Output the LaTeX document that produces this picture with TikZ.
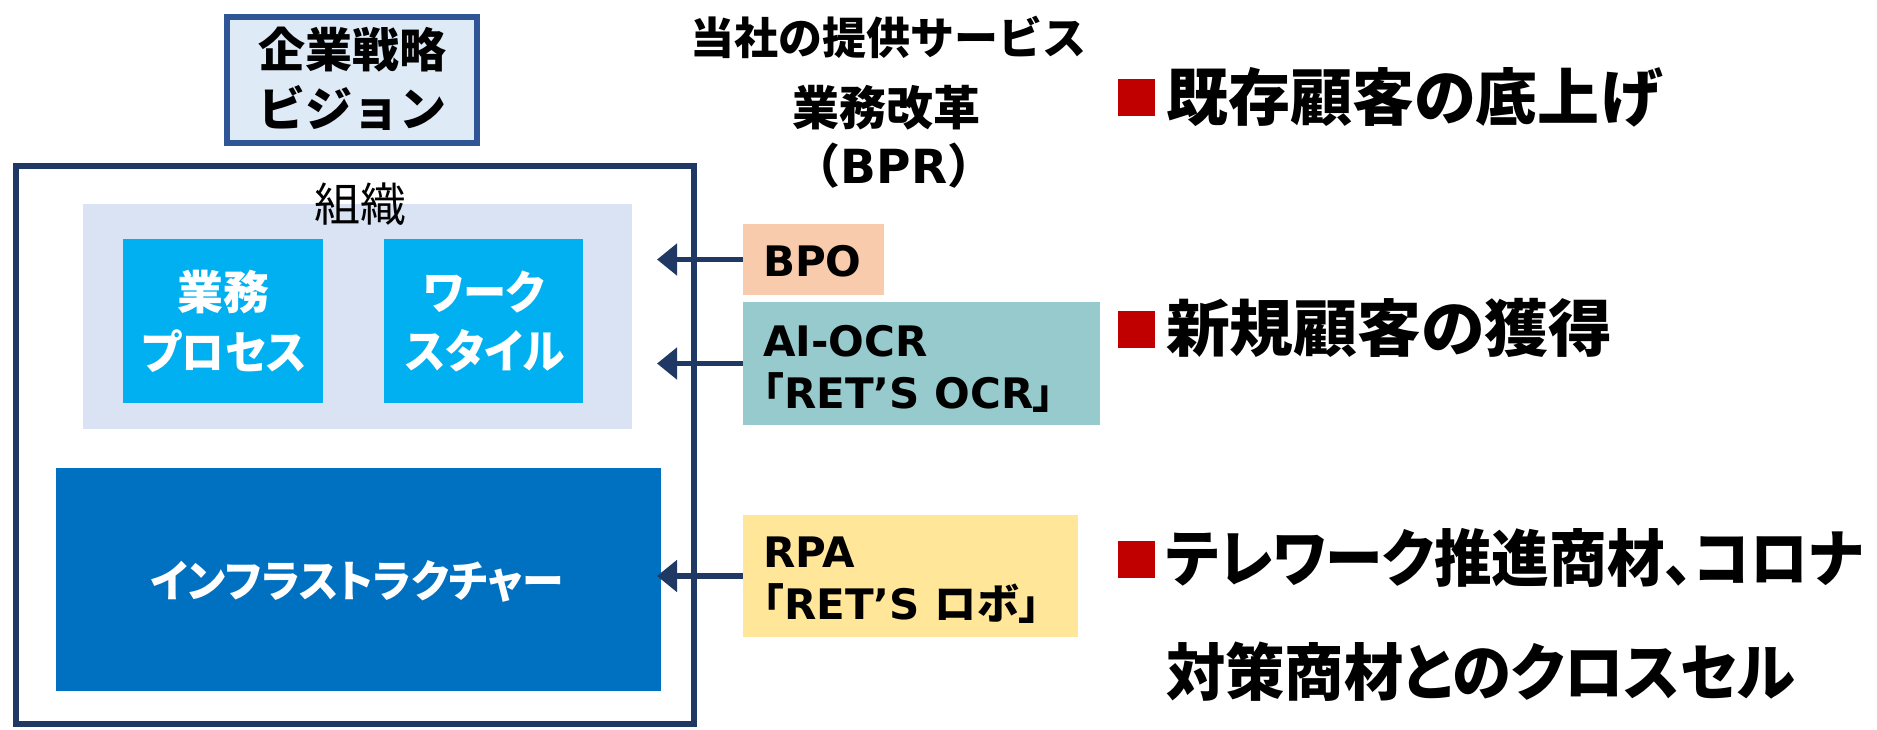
\documentclass[tikz,border=0pt]{standalone}
\usepackage{fontspec}
\usepackage{graphicx}
\setmainfont{DejaVu Sans}
\newfontfamily\jp{Noto Sans CJK JP}
\newfontfamily\jpp{Noto Sans CJK JP}[RawFeature=+palt]
\newfontfamily\lat{DejaVu Sans}
\usetikzlibrary{arrows.meta}
\definecolor{visfill}{HTML}{DEEBF7}
\definecolor{visdraw}{HTML}{2F5597}
\definecolor{navy}{HTML}{203864}
\definecolor{lightbg}{HTML}{DAE3F3}
\definecolor{cyanbox}{HTML}{00B0F0}
\definecolor{infrab}{HTML}{0070C0}
\definecolor{bpoc}{HTML}{F8CBAD}
\definecolor{ocrc}{HTML}{96CACD}
\definecolor{rpac}{HTML}{FFE699}
\definecolor{redsq}{HTML}{C00000}
\newcommand\fsz[1]{\fontsize{#1}{#1}\selectfont}
\newcommand\sqz[2]{\scalebox{#1}[1]{#2}}
\tikzset{
  plainbox/.style={draw=none, inner sep=0pt, outer sep=0pt},
  txt/.style={inner sep=0pt, outer sep=0pt, anchor=center},
  ltxt/.style={inner sep=0pt, outer sep=0pt, anchor=west},
  arr/.style={draw=navy, line width=5.5pt, -{Triangle[length=20pt,width=31pt]}},
  bullet/.style={fill=redsq, draw=none, minimum width=37pt, minimum height=37pt, inner sep=0pt},
}
\begin{document}
\begin{tikzpicture}[x=1pt,y=-1pt]
\useasboundingbox (0,0) rectangle (1877,729);
% vision
\node[draw=visdraw, fill=visfill, line width=6pt, minimum width=250pt, minimum height=126pt, inner sep=0pt] (vis) at (352,80) {};
\node[txt] (vis1) at (352,50) {\jp\bfseries\fsz{47}企業戦略};
\node[txt] (vis2) at (352,108) {\jp\bfseries\fsz{47}ビジョン};
% outer org box
\node[draw=navy, line width=6pt, minimum width=678pt, minimum height=558pt, inner sep=0pt] (outer) at (355,445) {};
\node[plainbox, fill=lightbg, minimum width=549pt, minimum height=225pt] (light) at (357.5,316.5) {};
\node[txt] (soshiki) at (360,204) {\jp\fsz{46}組織};
\node[plainbox, fill=cyanbox, minimum width=200pt, minimum height=164pt] (b1) at (223,321) {};
\node[plainbox, fill=cyanbox, minimum width=199pt, minimum height=164pt] (b2) at (483.5,321) {};
\node[txt, text=white] (b1a) at (223,292) {\jpp\bfseries\fsz{46}業務};
\node[txt, text=white] (b1b) at (224,351) {\jpp\bfseries\fsz{46}\sqz{0.93}{プロセス}};
\node[txt, text=white] (b2a) at (484,292) {\jpp\bfseries\fsz{46}\sqz{0.94}{ワーク}};
\node[txt, text=white] (b2b) at (485,351) {\jpp\bfseries\fsz{46}\sqz{0.93}{スタイル}};
\node[plainbox, fill=infrab, minimum width=605pt, minimum height=223pt] (infra) at (358.5,579.5) {};
\node[txt, text=white] (infrat) at (357,581) {\jpp\bfseries\fsz{44}\sqz{0.95}{インフラストラクチャー}};
% header
\node[txt] (h1) at (888,37) {\jp\bfseries\fsz{44}当社の提供サービス};
\node[txt] (h2) at (886,108) {\jp\bfseries\fsz{47}業務改革};
\node[txt] (h3) at (894,166) {\jp\bfseries\fsz{47}（{\lat\bfseries BPR}）};
% service boxes
\node[plainbox, fill=bpoc, minimum width=141pt, minimum height=71pt] (bpo) at (813.5,259.5) {};
\node[plainbox, fill=ocrc, minimum width=357pt, minimum height=123pt] (ocr) at (921.5,363.5) {};
\node[plainbox, fill=rpac, minimum width=335pt, minimum height=122pt] (rpa) at (910.5,576) {};
\node[ltxt] (bpot) at (763,261) {\lat\bfseries\fsz{42}BPO};
\node[ltxt] (ocr1) at (763,341) {\lat\bfseries\fsz{42}AI-OCR};
\node[ltxt] (ocr2) at (763,393) {\lat\bfseries\fsz{42}{\jpp 「}RET’S OCR{\jpp 」}};
\node[ltxt] (rpa1) at (763,552) {\lat\bfseries\fsz{42}RPA};
\node[ltxt] (rpa2) at (763,604) {\lat\bfseries\fsz{42}{\jpp 「}RET’S {\jpp ロボ」}};
% arrows
\coordinate (t1) at (657,259.5);
\coordinate (t2) at (657,363.5);
\coordinate (t3) at (657,576);
\draw[arr] (bpo.west) -- (t1);
\draw[arr] (ocr.west) -- (t2);
\draw[arr] (rpa.west) -- (t3);
% right bullets
\node[bullet] (s1) at (1136,97) {};
\node[bullet] (s2) at (1136,329) {};
\node[bullet] (s3) at (1136,559) {};
\node[ltxt] (r1) at (1166,97) {\jpp\bfseries\fsz{62}既存顧客の底上げ};
\node[ltxt] (r2) at (1166,328) {\jpp\bfseries\fsz{62}\sqz{1.03}{新規顧客の獲得}};
\node[ltxt] (r3) at (1166,558) {\jpp\bfseries\fsz{62}\sqz{0.93}{テレワーク推進商材、コロナ}};
\node[ltxt] (r4) at (1166,672) {\jpp\bfseries\fsz{62}\sqz{0.957}{対策商材とのクロスセル}};
\end{tikzpicture}
\end{document}
